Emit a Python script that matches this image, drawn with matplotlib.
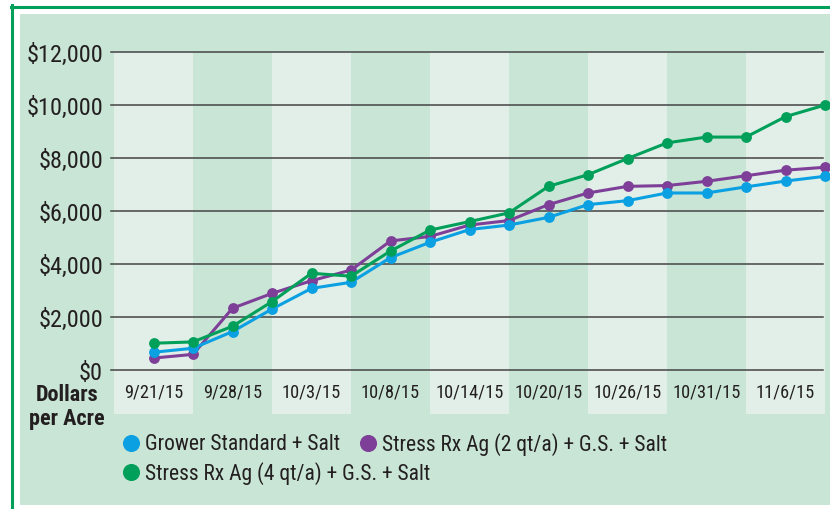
import numpy as np
import matplotlib
import matplotlib.pyplot as plt
from matplotlib.patches import Rectangle
from matplotlib.lines import Line2D

matplotlib.use('Agg')

# dates shown under each column band
dates = ["9/21/15", "9/28/15", "10/3/15", "10/8/15", "10/14/15",
         "10/20/15", "10/26/15", "10/31/15", "11/6/15"]

# dollars per acre, two readings per band
grower = [670, 820, 1450, 2300, 3080, 3310, 4240, 4820, 5300,
          5470, 5760, 6240, 6390, 6680, 6680, 6910, 7130, 7310]
rx_2qt = [450, 590, 2330, 2890, 3370, 3770, 4870, 5040, 5470,
          5640, 6240, 6680, 6930, 6960, 7120, 7330, 7540, 7650]
rx_4qt = [1010, 1060, 1650, 2580, 3650, 3540, 4490, 5280, 5600,
          5930, 6930, 7370, 7980, 8570, 8790, 8790, 9560, 10000]

y_ticks = [0, 2000, 4000, 6000, 8000, 10000, 12000]
y_labels = ["$0", "$2,000", "$4,000", "$6,000", "$8,000", "$10,000", "$12,000"]

labels = ["Grower Standard + Salt",
          "Stress Rx Ag (2 qt/a) + G.S. + Salt",
          "Stress Rx Ag (4 qt/a) + G.S. + Salt"]

BLUE = "#0aa0e2"
PURPLE = "#7e3f98"
GREEN = "#00a05a"
BG = "#c9e5d6"
BAND = "#e1efe8"
GRID = "#444444"

plt.rcParams['font.family'] = ['Roboto Condensed', 'Liberation Sans', 'DejaVu Sans']
plt.rcParams['text.color'] = '#231f20'
plt.rcParams['xtick.color'] = '#231f20'
plt.rcParams['ytick.color'] = '#231f20'

W, H = 830, 510
fig = plt.figure(figsize=(W / 100, H / 100), dpi=100)
fig.patch.set_facecolor('white')


def fx(px):
    return px / W


def fy(py):
    return (H - py) / H


# panel fill and green frame
fig.add_artist(Rectangle((fx(20), fy(506)), fx(810), 491 / H,
                         transform=fig.transFigure, facecolor=BG, edgecolor='none', zorder=0))
fig.add_artist(Line2D([fx(11.5), fx(11.5)], [fy(6), fy(512)], transform=fig.transFigure,
                      color=GREEN, lw=2.2, zorder=1))
fig.add_artist(Line2D([fx(10.5), fx(832)], [fy(7.5), fy(7.5)], transform=fig.transFigure,
                      color=GREEN, lw=2.2, zorder=1))

ax = fig.add_axes([fx(114), fy(371), fx(711), 318 / H])
ax.set_facecolor('none')
for s in ax.spines.values():
    s.set_visible(False)

ax.set_xlim(0, len(dates))
ax.set_ylim(0, 12000)

# alternating column bands, running down behind the date labels
for i in range(len(dates)):
    if i % 2 == 0:
        ax.axvspan(i, i + 1, ymin=-44 / 318, ymax=1, facecolor=BAND,
                   edgecolor='none', clip_on=False, zorder=0)

for v in y_ticks:
    ax.axhline(v, xmin=-3 / 711, xmax=0.997, color=GRID, lw=1.1, clip_on=False, zorder=1)

x = np.arange(len(grower)) * 0.5 + 0.5
series = [(rx_2qt, PURPLE, 2), (grower, BLUE, 3), (rx_4qt, GREEN, 4)]
for vals, col, z in series:
    ax.plot(x, vals, color=col, lw=2.2, marker='o', ms=7.8, mew=0,
            clip_on=False, zorder=z)

ax.set_yticks(y_ticks)
ax.set_yticklabels(y_labels, fontsize=17.5)
ax.set_xticks(np.arange(len(dates)) + 0.5)
ax.set_xticklabels(dates, fontsize=13.2)
ax.tick_params(axis='y', length=0, pad=8)
ax.tick_params(axis='x', length=0, pad=9)

fig.text(fx(67), fy(407), "Dollars\nper Acre", ha='center', va='center',
         ma='center', fontsize=16, fontweight='bold', linespacing=1.08)

# legend laid out by hand: two entries on the first row, one on the second
legend_pos = [(131, 444), (368, 444), (131, 473)]
for (px, py), lab, col in zip(legend_pos, labels, [BLUE, PURPLE, GREEN]):
    fig.add_artist(Line2D([fx(px)], [fy(py)], transform=fig.transFigure, marker='o',
                          ms=12.3, mew=0, color=col, linestyle='none'))
    fig.text(fx(px + 14), fy(py + 1), lab, ha='left', va='center', fontsize=15.5)

fig.savefig('out.png', dpi=100)
